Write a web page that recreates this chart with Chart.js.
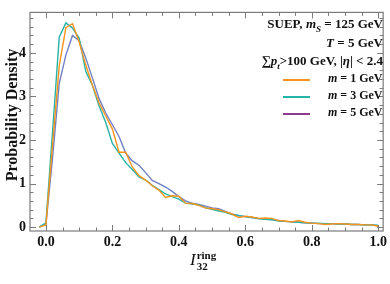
<!DOCTYPE html>
<html>
<head>
<meta charset="utf-8">
<script src="https://cdn.jsdelivr.net/npm/chart.js@4.4.1/dist/chart.umd.min.js"></script>
<style>
  html, body { margin: 0; padding: 0; background: #fff; }
  #wrap { position: relative; width: 390px; height: 284px; font-family: "Liberation Serif", "DejaVu Serif", serif; font-weight: bold; color: #111; }
  canvas { position: absolute; left: 0; top: 0; }
  .lbl { position: absolute; white-space: nowrap; }
  .ann { right: 7px; font-size: 13px; text-align: right; }
  .leg { left: 328px; font-size: 12px; }
  .sw { position: absolute; left: 283px; width: 27px; height: 2px; }
  i { font-style: italic; }
  sub, sup { font-size: 70%; line-height: 0; }
</style>
</head>
<body>
<div id="wrap">
  <canvas id="chart" width="390" height="284"></canvas>
  <div class="lbl" id="ytitle" style="left:-63px; top:106px; width:150px; text-align:center; font-size:16px; transform:rotate(-90deg);">Probability Density</div>
  <div class="lbl" style="left:190px; top:250px; font-size:17px;"><i style="font-weight:normal">I</i><span style="display:inline-block; vertical-align:top; font-size:11px; line-height:11px; margin-left:1px;">ring<br>32</span></div>
  <div class="lbl ann" style="top:16px;">SUEP, <i>m</i><sub><i>S</i></sub> = 125 GeV</div>
  <div class="lbl ann" style="top:35px;"><i>T</i> = 5 GeV</div>
  <div class="lbl ann" style="top:53px;">∑<i>p</i><sub><i>t</i></sub>&gt;100 GeV, |<i>η</i>| &lt; 2.4</div>
  <div id="legend"></div>
</div>
<script>
// bin centres of the histogram
const xVals = [-0.02, 0.00, 0.02, 0.04, 0.06, 0.08, 0.10, 0.12, 0.14, 0.16, 0.18, 0.20,
  0.22, 0.24, 0.26, 0.28, 0.30, 0.32, 0.34, 0.36, 0.38, 0.40, 0.42, 0.44, 0.46, 0.48,
  0.50, 0.52, 0.54, 0.56, 0.58, 0.60, 0.62, 0.64, 0.66, 0.68, 0.70, 0.72, 0.74, 0.76,
  0.78, 0.80, 0.82, 0.84, 0.86, 0.88, 0.90, 0.92, 0.94, 0.96, 0.98, 1.00];

const m1 = [0, 0.05, 1.9, 3.7, 4.58, 4.67, 4.25, 3.72, 3.25, 2.85, 2.55, 2.25,
  1.72, 1.72, 1.38, 1.18, 1.08, 0.95, 0.85, 0.68, 0.72, 0.71, 0.55, 0.54, 0.50, 0.44,
  0.42, 0.40, 0.35, 0.30, 0.22, 0.25, 0.23, 0.20, 0.21, 0.20, 0.15, 0.14, 0.12, 0.15,
  0.11, 0.09, 0.08, 0.06, 0.07, 0.08, 0.07, 0.06, 0.06, 0.05, 0.05, 0.02];

const m3 = [0, 0.10, 2.2, 4.36, 4.69, 4.57, 4.34, 3.57, 3.25, 2.78, 2.40, 1.92,
  1.70, 1.48, 1.32, 1.15, 1.08, 0.96, 0.86, 0.76, 0.70, 0.64, 0.55, 0.53, 0.51, 0.44,
  0.41, 0.37, 0.34, 0.29, 0.27, 0.24, 0.22, 0.19, 0.18, 0.17, 0.14, 0.13, 0.12, 0.11,
  0.10, 0.09, 0.09, 0.08, 0.08, 0.07, 0.07, 0.06, 0.06, 0.05, 0.05, 0.04];

const m5 = [0, 0.07, 1.6, 3.3, 3.95, 4.40, 4.28, 3.88, 3.42, 2.95, 2.62, 2.35,
  2.08, 1.70, 1.52, 1.42, 1.25, 1.07, 1.00, 0.92, 0.82, 0.70, 0.60, 0.55, 0.52, 0.48,
  0.44, 0.42, 0.36, 0.30, 0.26, 0.24, 0.22, 0.20, 0.19, 0.17, 0.15, 0.13, 0.12, 0.11,
  0.10, 0.09, 0.08, 0.08, 0.08, 0.07, 0.07, 0.06, 0.06, 0.05, 0.05, 0.04];

const seriesNames = ['m = 1 GeV', 'm = 3 GeV', 'm = 5 GeV'];
const lineColors = ['#f7941d', '#26b3a8', '#6f80c4'];
const legendColors = ['#f7941d', '#26b3a8', '#8e3a8e'];

const xTicks = [0, 0.2, 0.4, 0.6, 0.8, 1.0];
const yTicks = [0, 1, 2, 3, 4];

/* --- helpers ------------------------------------------------------------- */
function toPoints(ys) {
    return xVals.map((x, i) => ({ x, y: ys[i] }));
}

// Mathematica-style frame with inward ticks on all four sides
const framePlugin = {
    id: 'frame',
    afterDraw(chart) {
        const { ctx, chartArea: a, scales: { x, y } } = chart;
        ctx.save();
        ctx.strokeStyle = '#7a7a7a';
        ctx.lineWidth = 1.2;
        ctx.strokeRect(a.left, a.top, a.right - a.left, a.bottom - a.top);
        ctx.lineWidth = 1;
        ctx.beginPath();
        for (let k = -1; k <= 20; k++) {
            const v = k * 0.05;
            if (v < x.min || v > x.max) continue;
            const px = Math.round(x.getPixelForValue(v)) + 0.5;
            const len = k % 4 === 0 ? 6 : 3.5;
            ctx.moveTo(px, a.bottom); ctx.lineTo(px, a.bottom - len);
            ctx.moveTo(px, a.top); ctx.lineTo(px, a.top + len);
        }
        for (let k = 0; k <= 24; k++) {
            const v = k * 0.2;
            if (v < y.min || v > y.max) continue;
            const py = Math.round(y.getPixelForValue(v)) + 0.5;
            const len = k % 5 === 0 ? 6 : 3.5;
            ctx.moveTo(a.left, py); ctx.lineTo(a.left + len, py);
            ctx.moveTo(a.right, py); ctx.lineTo(a.right - len, py);
        }
        ctx.stroke();
        ctx.restore();
    }
};

/* --- legend (inside the plot) -------------------------------------------- */
const legend = document.getElementById('legend');
seriesNames.forEach((name, i) => {
    const top = 79 + i * 17;
    const sw = document.createElement('div');
    sw.className = 'sw';
    sw.style.top = top + 'px';
    sw.style.background = legendColors[i];
    legend.appendChild(sw);
    const t = document.createElement('div');
    t.className = 'lbl leg';
    t.style.top = (top - 8) + 'px';
    t.innerHTML = '<i>m</i>' + name.slice(1);
    legend.appendChild(t);
});

/* --- chart --------------------------------------------------------------- */
const tickFont = { family: '"Liberation Serif", serif', size: 14, weight: 'bold' };

new Chart(document.getElementById('chart'), {
    type: 'line',
    data: {
        datasets: [m1, m3, m5].map((ys, i) => ({
            label: seriesNames[i],
            data: toPoints(ys),
            borderColor: lineColors[i],
            borderWidth: 1.4,
            pointRadius: 0,
            tension: 0,
            fill: false
        }))
    },
    options: {
        responsive: false,
        animation: false,
        layout: { padding: { left: 0, right: 5, top: 10, bottom: 0 } },
        plugins: { legend: { display: false }, tooltip: { enabled: false } },
        scales: {
            x: {
                type: 'linear',
                min: -0.048,
                max: 1.015,
                grid: { display: false, drawTicks: false },
                border: { display: false },
                afterBuildTicks: s => { s.ticks = xTicks.map(v => ({ value: v })); },
                afterFit: s => { s.height = 53; },
                ticks: {
                    padding: 3,
                    color: '#111',
                    font: tickFont,
                    maxRotation: 0,
                    callback: v => v.toFixed(1)
                }
            },
            y: {
                min: -0.09,
                max: 4.93,
                grid: { display: false, drawTicks: false },
                border: { display: false },
                afterBuildTicks: s => { s.ticks = yTicks.map(v => ({ value: v })); },
                afterFit: s => { s.width = 30; },
                ticks: {
                    padding: 4,
                    color: '#111',
                    font: tickFont,
                    callback: v => String(v)
                }
            }
        }
    },
    plugins: [framePlugin]
});
</script>
</body>
</html>
